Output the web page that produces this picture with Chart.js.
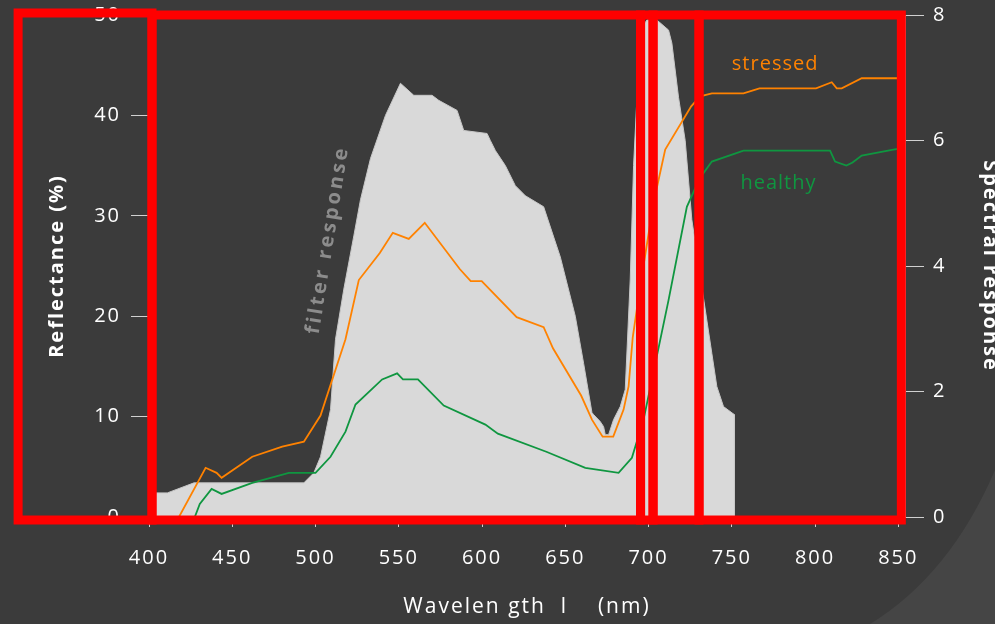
<!DOCTYPE html>
<html>
<head>
<meta charset="utf-8">
<script src="https://cdn.jsdelivr.net/npm/chart.js@4.4.1/dist/chart.umd.min.js"></script>
<style>
  html, body { margin: 0; padding: 0; background: #3b3b3b; overflow: hidden; }
</style>
</head>
<body>
<canvas id="graf_spectre" width="995" height="624"></canvas>
<script>
// longueurs d'onde (nm) et valeurs
const filtre_x = [400, 411, 427, 493, 499, 503, 509, 512, 517, 523, 527, 533, 542, 551, 559, 570, 574, 585, 589, 603,
  605, 608, 614, 620, 626, 630, 637, 647, 656, 661, 666, 667, 671, 673, 674, 676, 679, 683, 686, 689,
  691, 694, 697, 699, 705, 712, 714, 718, 722, 726, 732, 738, 741, 745, 751.5, 751.6];
const filtre_y = [2.4, 2.4, 3.4, 3.4, 4.4, 6, 10.7, 17.7, 22.7, 28, 31.6, 35.7, 40, 43.2, 42, 42, 41.5, 40.5, 38.5, 38.2,
  37.5, 36.5, 35, 33, 32, 31.6, 30.9, 25.9, 20, 15.3, 10.4, 10.2, 9.5, 9, 8.2, 8.2, 9.7, 11, 12.7, 23.7,
  35, 45, 49, 49.5, 49.5, 48.5, 47.2, 41.8, 37.5, 29.6, 22.9, 16.3, 13, 11, 10.2, 0];

const stresse_x = [418, 434, 440.6, 443.6, 462, 480, 493, 503, 518, 526, 538.6, 546.4, 556, 565.6, 586.6, 593.2, 599.8, 620.8, 637, 642.6,
  659.5, 666, 672.4, 678.8, 685, 688, 690.5, 695, 703, 710, 725.6, 731, 738, 757, 766.6, 800.6, 810, 813, 816, 828, 855];
const stresse_y = [0, 4.9, 4.4, 3.9, 6, 7, 7.5, 10.1, 17.7, 23.6, 26.3, 28.3, 27.7, 29.3, 24.7, 23.5, 23.5, 19.9, 18.9, 16.8,
  12.1, 9.7, 8, 8, 10.7, 13, 17.9, 23, 31.3, 36.6, 40.9, 41.9, 42.2, 42.2, 42.7, 42.7, 43.3, 42.7, 42.7, 43.7, 43.7];

const sain_x = [427.5, 430.5, 437.6, 443.6, 462, 484, 500, 509, 518, 524, 540, 549, 552.5, 561.5, 577, 602, 609.5, 638.6, 662, 682,
  690, 697, 712, 723, 730.6, 738, 757, 809, 812, 818.8, 822.5, 828, 847, 855];
const sain_y = [0, 1.3, 2.8, 2.3, 3.4, 4.4, 4.4, 6, 8.5, 11.2, 13.7, 14.3, 13.7, 13.7, 11.1, 9.2, 8.3, 6.5, 4.9, 4.4,
  5.9, 9.7, 21.6, 30.9, 33.7, 35.4, 36.5, 36.5, 35.4, 35, 35.3, 36, 36.6, 36.8];

const ticks_x = [400, 450, 500, 550, 600, 650, 700, 750, 800, 850];

// cadres rouges : bords en nm, puis haut / bas en valeur de l'axe gauche
const cadres = [
  [321.4, 401.8, 50.2, -0.3],
  [401.8, 695.2, 50.0, -0.3],
  [695.2, 702.7, 50.0, -0.3],
  [702.7, 730.3, 50.0, -0.3],
  [730.3, 851.8, 50.0, -0.3]
];

const points = (xs, ys) => xs.map((x, i) => ({ x: x, y: ys[i] }));

Chart.defaults.font.family = "'Open Sans', 'DejaVu Sans', sans-serif";
Chart.defaults.color = '#f2f2f2';

const decor = {
  id: 'decor',
  beforeDraw(chart) {
    const ctx = chart.ctx;
    ctx.save();
    ctx.fillStyle = '#3b3b3b';
    ctx.fillRect(0, 0, chart.width, chart.height);
    // reflet en bas à droite
    ctx.fillStyle = 'rgba(255,255,255,0.05)';
    ctx.beginPath();
    ctx.moveTo(870, 624);
    ctx.quadraticCurveTo(950, 575, 995, 470);
    ctx.lineTo(995, 624);
    ctx.closePath();
    ctx.fill();
    ctx.restore();
    ctx.letterSpacing = '2px';
  },
  afterDatasetsDraw(chart) {
    const ctx = chart.ctx;
    const x = chart.scales.x, y = chart.scales.y;
    ctx.save();
    ctx.letterSpacing = '1px';
    ctx.font = "20px 'Open Sans'";
    ctx.textAlign = 'center';
    ctx.textBaseline = 'middle';
    ctx.fillStyle = '#ff8200';
    ctx.fillText('stressed', x.getPixelForValue(776), y.getPixelForValue(45.1));
    ctx.fillStyle = '#0f9640';
    ctx.fillText('healthy', x.getPixelForValue(778), y.getPixelForValue(33.2));
    // texte gris incliné
    ctx.translate(x.getPixelForValue(507.4), y.getPixelForValue(27.6));
    ctx.rotate(-81 * Math.PI / 180);
    ctx.font = "bold 20px 'Open Sans'";
    ctx.letterSpacing = '3px';
    ctx.fillStyle = '#8c8c8c';
    ctx.fillText('filter response', 0, 0);
    ctx.restore();
  },
  afterDraw(chart) {
    const ctx = chart.ctx;
    const x = chart.scales.x, y = chart.scales.y;
    ctx.save();
    ctx.strokeStyle = '#ff0000';
    ctx.lineWidth = 9;
    cadres.forEach(c => {
      const x0 = x.getPixelForValue(c[0]), x1 = x.getPixelForValue(c[1]);
      const y0 = y.getPixelForValue(c[2]), y1 = y.getPixelForValue(c[3]);
      ctx.strokeRect(x0, y0, x1 - x0, y1 - y0);
    });
    ctx.restore();
  }
};

new Chart(document.getElementById('graf_spectre'), {
  type: 'line',
  data: {
    datasets: [{
      label: 'stressed',
      data: points(stresse_x, stresse_y),
      borderColor: '#ff8200',
      borderWidth: 1.8,
      pointRadius: 0,
      fill: false,
      order: 0
    }, {
      label: 'healthy',
      data: points(sain_x, sain_y),
      borderColor: '#0f9640',
      borderWidth: 1.8,
      pointRadius: 0,
      fill: false,
      order: 0
    }, {
      label: 'filtre',
      data: points(filtre_x, filtre_y),
      borderColor: '#c8c8c8',
      borderWidth: 1,
      backgroundColor: '#d9d9d9',
      pointRadius: 0,
      fill: 'origin',
      order: 2
    }]
  },
  options: {
    responsive: false,
    devicePixelRatio: 1,
    animation: false,
    layout: { padding: { top: 15, left: 0, right: 0, bottom: 0 } },
    plugins: {
      legend: { display: false },
      tooltip: { enabled: false }
    },
    scales: {
      x: {
        type: 'linear',
        min: 400,
        max: 854,
        afterBuildTicks: s => { s.ticks = ticks_x.map(v => ({ value: v })); },
        afterFit: s => { s.height = 107; s.paddingLeft = 0; s.paddingRight = 0; },
        ticks: { color: '#ffffff', font: { size: 20 }, padding: 19, maxRotation: 0 },
        grid: { drawOnChartArea: false, tickLength: 10, color: '#d0d0d0' },
        border: { display: true, color: '#e0e0e0' },
        title: {
          display: true,
          text: 'Wavelen gth  l    (nm)',
          color: '#ffffff',
          font: { size: 21 },
          padding: { top: 0, bottom: 4 }
        }
      },
      y: {
        position: 'left',
        min: 0,
        max: 50,
        afterFit: s => { s.width = 149; s.paddingTop = 0; s.paddingBottom = 0; },
        ticks: { stepSize: 10, color: '#ffffff', font: { size: 20 }, padding: 10 },
        grid: { drawOnChartArea: false, tickLength: 18, color: '#d0d0d0' },
        border: { display: true, color: '#d0d0d0' },
        title: {
          display: true,
          text: 'Reflectance (%)',
          color: '#ffffff',
          font: { size: 20, weight: 'bold' },
          padding: { top: 45, bottom: 0 }
        }
      },
      y1: {
        position: 'right',
        min: 0,
        max: 8,
        afterFit: s => { s.width = 90; s.paddingTop = 0; s.paddingBottom = 0; },
        ticks: { stepSize: 2, color: '#ffffff', font: { size: 20 }, padding: 9 },
        grid: { drawOnChartArea: false, tickLength: 19, color: '#d0d0d0' },
        border: { display: true, color: '#d0d0d0' },
        title: {
          display: true,
          text: 'Spectral response',
          color: '#ffffff',
          font: { size: 20, weight: 'bold', lineHeight: 1 },
          padding: { top: -5, bottom: 0 }
        }
      }
    }
  },
  plugins: [decor]
});
</script>
</body>
</html>
